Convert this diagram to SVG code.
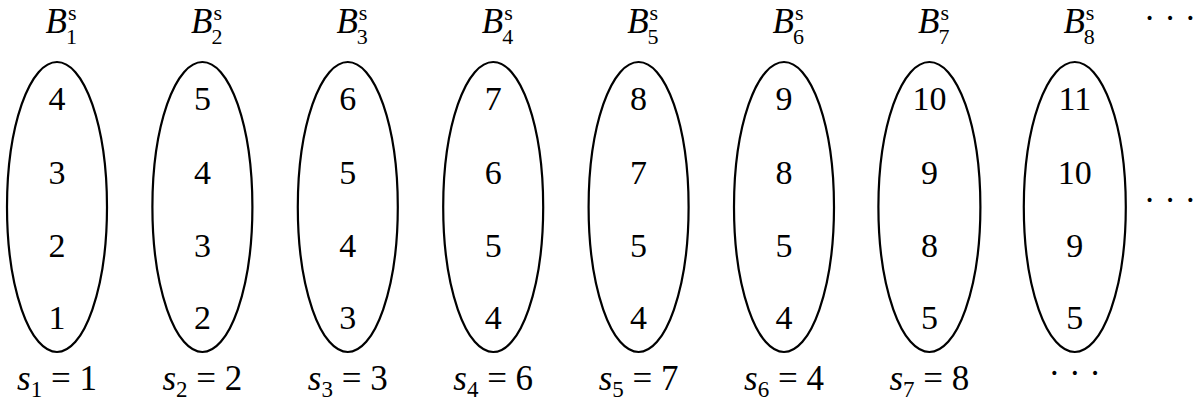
<svg xmlns="http://www.w3.org/2000/svg" width="1200" height="405" viewBox="0 0 1200 405">
<rect width="1200" height="405" fill="#fff"/>
<g font-family="Liberation Serif, serif" fill="#000">
<g id="B1"><ellipse fill="none" stroke="#000" stroke-width="2.2" cx="57" cy="207" rx="50" ry="145"/>
<text font-size="35" font-style="italic" text-anchor="end" x="67" y="33">B</text><text font-size="22" x="68" y="20">s</text><text font-size="22" x="66" y="44">1</text>
<g font-size="34" text-anchor="middle"><text x="57" y="110">4</text><text x="57" y="184">3</text><text x="57" y="257">2</text><text x="57" y="329">1</text></g>
<text font-size="35" text-anchor="middle" x="57" y="390"><tspan font-style="italic">s</tspan><tspan font-size="23" dy="7">1</tspan><tspan dy="-7"> = 1</tspan></text></g>
<g id="B2"><ellipse fill="none" stroke="#000" stroke-width="2.2" cx="202.4" cy="207" rx="50" ry="145"/>
<text font-size="35" font-style="italic" text-anchor="end" x="212.4" y="33">B</text><text font-size="22" x="213.4" y="20">s</text><text font-size="22" x="211.4" y="44">2</text>
<g font-size="34" text-anchor="middle"><text x="202.4" y="110">5</text><text x="202.4" y="184">4</text><text x="202.4" y="257">3</text><text x="202.4" y="329">2</text></g>
<text font-size="35" text-anchor="middle" x="202.4" y="390"><tspan font-style="italic">s</tspan><tspan font-size="23" dy="7">2</tspan><tspan dy="-7"> = 2</tspan></text></g>
<g id="B3"><ellipse fill="none" stroke="#000" stroke-width="2.2" cx="347.8" cy="207" rx="50" ry="145"/>
<text font-size="35" font-style="italic" text-anchor="end" x="357.8" y="33">B</text><text font-size="22" x="358.8" y="20">s</text><text font-size="22" x="356.8" y="44">3</text>
<g font-size="34" text-anchor="middle"><text x="347.8" y="110">6</text><text x="347.8" y="184">5</text><text x="347.8" y="257">4</text><text x="347.8" y="329">3</text></g>
<text font-size="35" text-anchor="middle" x="347.8" y="390"><tspan font-style="italic">s</tspan><tspan font-size="23" dy="7">3</tspan><tspan dy="-7"> = 3</tspan></text></g>
<g id="B4"><ellipse fill="none" stroke="#000" stroke-width="2.2" cx="493.2" cy="207" rx="50" ry="145"/>
<text font-size="35" font-style="italic" text-anchor="end" x="503.2" y="33">B</text><text font-size="22" x="504.2" y="20">s</text><text font-size="22" x="502.2" y="44">4</text>
<g font-size="34" text-anchor="middle"><text x="493.2" y="110">7</text><text x="493.2" y="184">6</text><text x="493.2" y="257">5</text><text x="493.2" y="329">4</text></g>
<text font-size="35" text-anchor="middle" x="493.2" y="390"><tspan font-style="italic">s</tspan><tspan font-size="23" dy="7">4</tspan><tspan dy="-7"> = 6</tspan></text></g>
<g id="B5"><ellipse fill="none" stroke="#000" stroke-width="2.2" cx="638.6" cy="207" rx="50" ry="145"/>
<text font-size="35" font-style="italic" text-anchor="end" x="648.6" y="33">B</text><text font-size="22" x="649.6" y="20">s</text><text font-size="22" x="647.6" y="44">5</text>
<g font-size="34" text-anchor="middle"><text x="638.6" y="110">8</text><text x="638.6" y="184">7</text><text x="638.6" y="257">5</text><text x="638.6" y="329">4</text></g>
<text font-size="35" text-anchor="middle" x="638.6" y="390"><tspan font-style="italic">s</tspan><tspan font-size="23" dy="7">5</tspan><tspan dy="-7"> = 7</tspan></text></g>
<g id="B6"><ellipse fill="none" stroke="#000" stroke-width="2.2" cx="784" cy="207" rx="50" ry="145"/>
<text font-size="35" font-style="italic" text-anchor="end" x="794" y="33">B</text><text font-size="22" x="795" y="20">s</text><text font-size="22" x="793" y="44">6</text>
<g font-size="34" text-anchor="middle"><text x="784" y="110">9</text><text x="784" y="184">8</text><text x="784" y="257">5</text><text x="784" y="329">4</text></g>
<text font-size="35" text-anchor="middle" x="784" y="390"><tspan font-style="italic">s</tspan><tspan font-size="23" dy="7">6</tspan><tspan dy="-7"> = 4</tspan></text></g>
<g id="B7"><ellipse fill="none" stroke="#000" stroke-width="2.2" cx="929.4" cy="207" rx="51" ry="145"/>
<text font-size="35" font-style="italic" text-anchor="end" x="939.4" y="33">B</text><text font-size="22" x="940.4" y="20">s</text><text font-size="22" x="938.4" y="44">7</text>
<g font-size="34" text-anchor="middle"><text x="929.4" y="110">10</text><text x="929.4" y="184">9</text><text x="929.4" y="257">8</text><text x="929.4" y="329">5</text></g>
<text font-size="35" text-anchor="middle" x="929.4" y="390"><tspan font-style="italic">s</tspan><tspan font-size="23" dy="7">7</tspan><tspan dy="-7"> = 8</tspan></text></g>
<g id="B8"><ellipse fill="none" stroke="#000" stroke-width="2.2" cx="1074.8" cy="207" rx="51" ry="145"/>
<text font-size="35" font-style="italic" text-anchor="end" x="1084.8" y="33">B</text><text font-size="22" x="1085.8" y="20">s</text><text font-size="22" x="1083.8" y="44">8</text>
<g font-size="34" text-anchor="middle"><text x="1074.8" y="110">11</text><text x="1074.8" y="184">10</text><text x="1074.8" y="257">9</text><text x="1074.8" y="329">5</text></g>
<text font-size="35" text-anchor="middle" x="1074.8" y="385">· · ·</text></g>
<g id="dots" font-size="35" text-anchor="middle">
<text x="1170" y="30">· · ·</text>
<text x="1170" y="212">· · ·</text>
</g>
</g>
<g id="connectors"></g>
</svg>
